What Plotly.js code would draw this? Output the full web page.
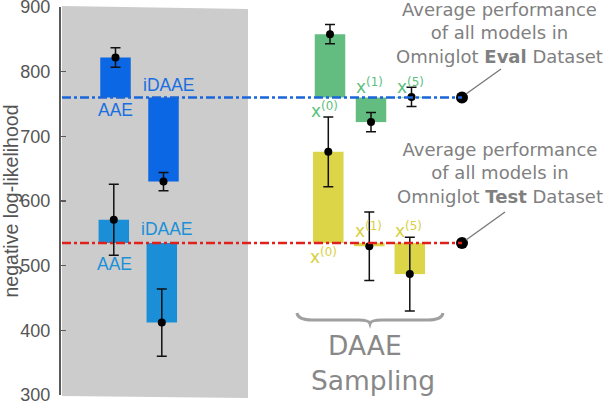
<!DOCTYPE html>
<html>
<head>
<meta charset="utf-8">
<script src="https://cdn.plot.ly/plotly-3.0.1.min.js"></script>
<style>html,body{margin:0;padding:0;background:#fff;}#chart{width:607px;height:401px;}</style>
</head>
<body>
<div id="chart"></div>
<script>
// ---- data ----
var categories = ['AAE', 'iDAAE', 'x(0)', 'x(1)', 'x(5)'];
var evalValues = [822, 630, 858, 722, 761];
var evalErrors = [15, 14, 15, 15, 15];
var testValues = [571, 412, 676, 530, 487];
var testErrors = [55, 52, 54, 53, 57];
var evalAverage = 760;
var testAverage = 535;
var tickValues = [300, 400, 500, 600, 700, 800, 900];

// ---- layout helpers (positions/styles) ----
var W = 607, H = 401, ML = 61, MT = 7, MB = 6;
var Y0 = 300, Y1 = 900;
var plotH = H - MT - MB;
function vy(py) { return Y1 - (py - MT) * (Y1 - Y0) / plotH; }   // pixel row -> data value
function py2paper(py) { return (H - MB - py) / plotH; }
function px2paper(px) { return (px - ML) / (W - ML); }
var slotX = {'AAE': 115.5, 'iDAAE': 163.5, 'x(0)': 330, 'x(1)': 371, 'x(5)': 411.5};
var testShift = -1.7;
var barW = 30.5;
var dotX = 462;
var evalColors = ['#0b67e3', '#0b67e3', '#63bd81', '#63bd81', '#63bd81'];
var testColors = ['#1a8fd7', '#1a8fd7', '#dcd548', '#dcd548', '#dcd548'];

var evalX = categories.map(function (c) { return slotX[c]; });
var testX = categories.map(function (c) { return slotX[c] + testShift; });

var traces = [
  {type: 'bar', x: evalX, y: evalValues.map(function (v) { return v - evalAverage; }), base: evalAverage,
   width: barW, marker: {color: evalColors, line: {width: 0}}, hoverinfo: 'skip'},
  {type: 'bar', x: testX, y: testValues.map(function (v) { return v - testAverage; }), base: testAverage,
   width: barW, marker: {color: testColors, line: {width: 0}}, hoverinfo: 'skip'},
  {type: 'scatter', mode: 'markers', x: evalX, y: evalValues,
   marker: {color: '#000', size: 8},
   error_y: {type: 'data', array: evalErrors, visible: true, color: '#111', thickness: 1.5, width: 5}},
  {type: 'scatter', mode: 'markers', x: testX, y: testValues,
   marker: {color: '#000', size: 8},
   error_y: {type: 'data', array: testErrors, visible: true, color: '#111', thickness: 1.5, width: 5}},
  {type: 'scatter', mode: 'markers', x: [dotX, dotX], y: [evalAverage, testAverage],
   marker: {color: '#000', size: 12}, cliponaxis: false}
];

function connectorPath(x0, py0, x1, py1) {
  return {type: 'path', xref: 'paper', yref: 'paper', layer: 'above',
          path: 'M ' + px2paper(x0) + ',' + py2paper(py0) + ' L ' + px2paper(x1) + ',' + py2paper(py1),
          line: {color: '#777777', width: 1.3}};
}

var shapes = [
  {type: 'path', xref: 'paper', yref: 'paper', layer: 'below',
   path: 'M ' + px2paper(62) + ',' + py2paper(6) + ' L ' + px2paper(248) + ',' + py2paper(9) +
         ' L ' + px2paper(248) + ',' + py2paper(398) + ' L ' + px2paper(62) + ',' + py2paper(396) + ' Z',
   fillcolor: '#cccccc', line: {width: 0}},
  {type: 'line', xref: 'x', yref: 'y', x0: 62, x1: dotX, y0: evalAverage, y1: evalAverage,
   line: {color: '#1a66d8', width: 2.5, dash: 'dashdot'}},
  {type: 'line', xref: 'x', yref: 'y', x0: 62, x1: dotX, y0: testAverage, y1: testAverage,
   line: {color: '#e0201c', width: 2.5, dash: 'dashdot'}},
  {type: 'path', xref: 'x', yref: 'y',
   path: 'M 297,' + vy(313) + ' Q 298,' + vy(320) + ' 312,' + vy(320) + ' L 358,' + vy(320) +
         ' Q 369,' + vy(320) + ' 370,' + vy(323.5) + ' Q 371,' + vy(320) + ' 382,' + vy(320) +
         ' L 428,' + vy(320) + ' Q 442,' + vy(320) + ' 443,' + vy(313),
   line: {color: '#a0a0a0', width: 3}},
  connectorPath(466, 94, 501, 69),
  connectorPath(466, 240, 505, 212)
];

function lab(text, x, py, color, size, family) {
  return {text: text, x: x, y: vy(py), xref: 'x', yref: 'y', showarrow: false,
          xanchor: 'center', yanchor: 'middle',
          font: {color: color, size: size, family: family || 'Liberation Sans, Arial, sans-serif'}};
}
var dv = 'DejaVu Sans, sans-serif';
var annotations = [
  lab(categories[0], 115.5, 110, '#1a6fe0', 17.5),
  lab(categories[1], 169, 85, '#1a6fe0', 17.5),
  lab(categories[0], 114, 264, '#1a90d8', 17.5),
  lab(categories[1], 167, 229, '#1a90d8', 17.5),
  lab('x<sup>(0)</sup>', 324, 110, '#5dbf7f', 17, dv),
  lab('x<sup>(1)</sup>', 369, 86, '#5dbf7f', 17, dv),
  lab('x<sup>(5)</sup>', 410, 86, '#5dbf7f', 17, dv),
  lab('x<sup>(0)</sup>', 323, 256, '#d8d040', 17, dv),
  lab('x<sup>(1)</sup>', 368, 230, '#d8d040', 17, dv),
  lab('x<sup>(5)</sup>', 408, 230, '#d8d040', 17, dv),
  lab('Average performance<br>of all models in<br>Omniglot <b>Eval</b> Dataset', 499, 33, '#808080', 18, dv),
  lab('Average performance<br>of all models in<br>Omniglot <b>Test</b> Dataset', 500, 173, '#808080', 18, dv),
  lab('DAAE', 365, 345, '#888888', 26.5, dv),
  lab('Sampling', 373, 380, '#888888', 26.5, dv)
];

var layout = {
  width: W, height: H,
  margin: {l: ML, r: 0, t: MT, b: MB, pad: 0},
  paper_bgcolor: '#ffffff', plot_bgcolor: 'rgba(0,0,0,0)',
  showlegend: false, barmode: 'overlay',
  xaxis: {range: [ML, W], visible: false, fixedrange: true},
  yaxis: {range: [Y0, Y1], tickvals: tickValues, ticktext: tickValues.map(String),
          showgrid: false, zeroline: false, showline: true, linecolor: '#5a5a5a', linewidth: 2,
          ticks: 'inside', ticklen: 5, tickcolor: '#5a5a5a', tickwidth: 1.5,
          ticklabeloverflow: 'allow', ticklabelstandoff: 5,
          tickfont: {family: 'Liberation Sans, Arial, sans-serif', size: 18, color: '#555'},
          title: {text: 'negative log-likelihood', standoff: 2,
                  font: {family: 'Liberation Sans, Arial, sans-serif', size: 19.5, color: '#555'}}},
  shapes: shapes, annotations: annotations
};

Plotly.newPlot('chart', traces, layout, {staticPlot: true, displayModeBar: false});
</script>
</body>
</html>
